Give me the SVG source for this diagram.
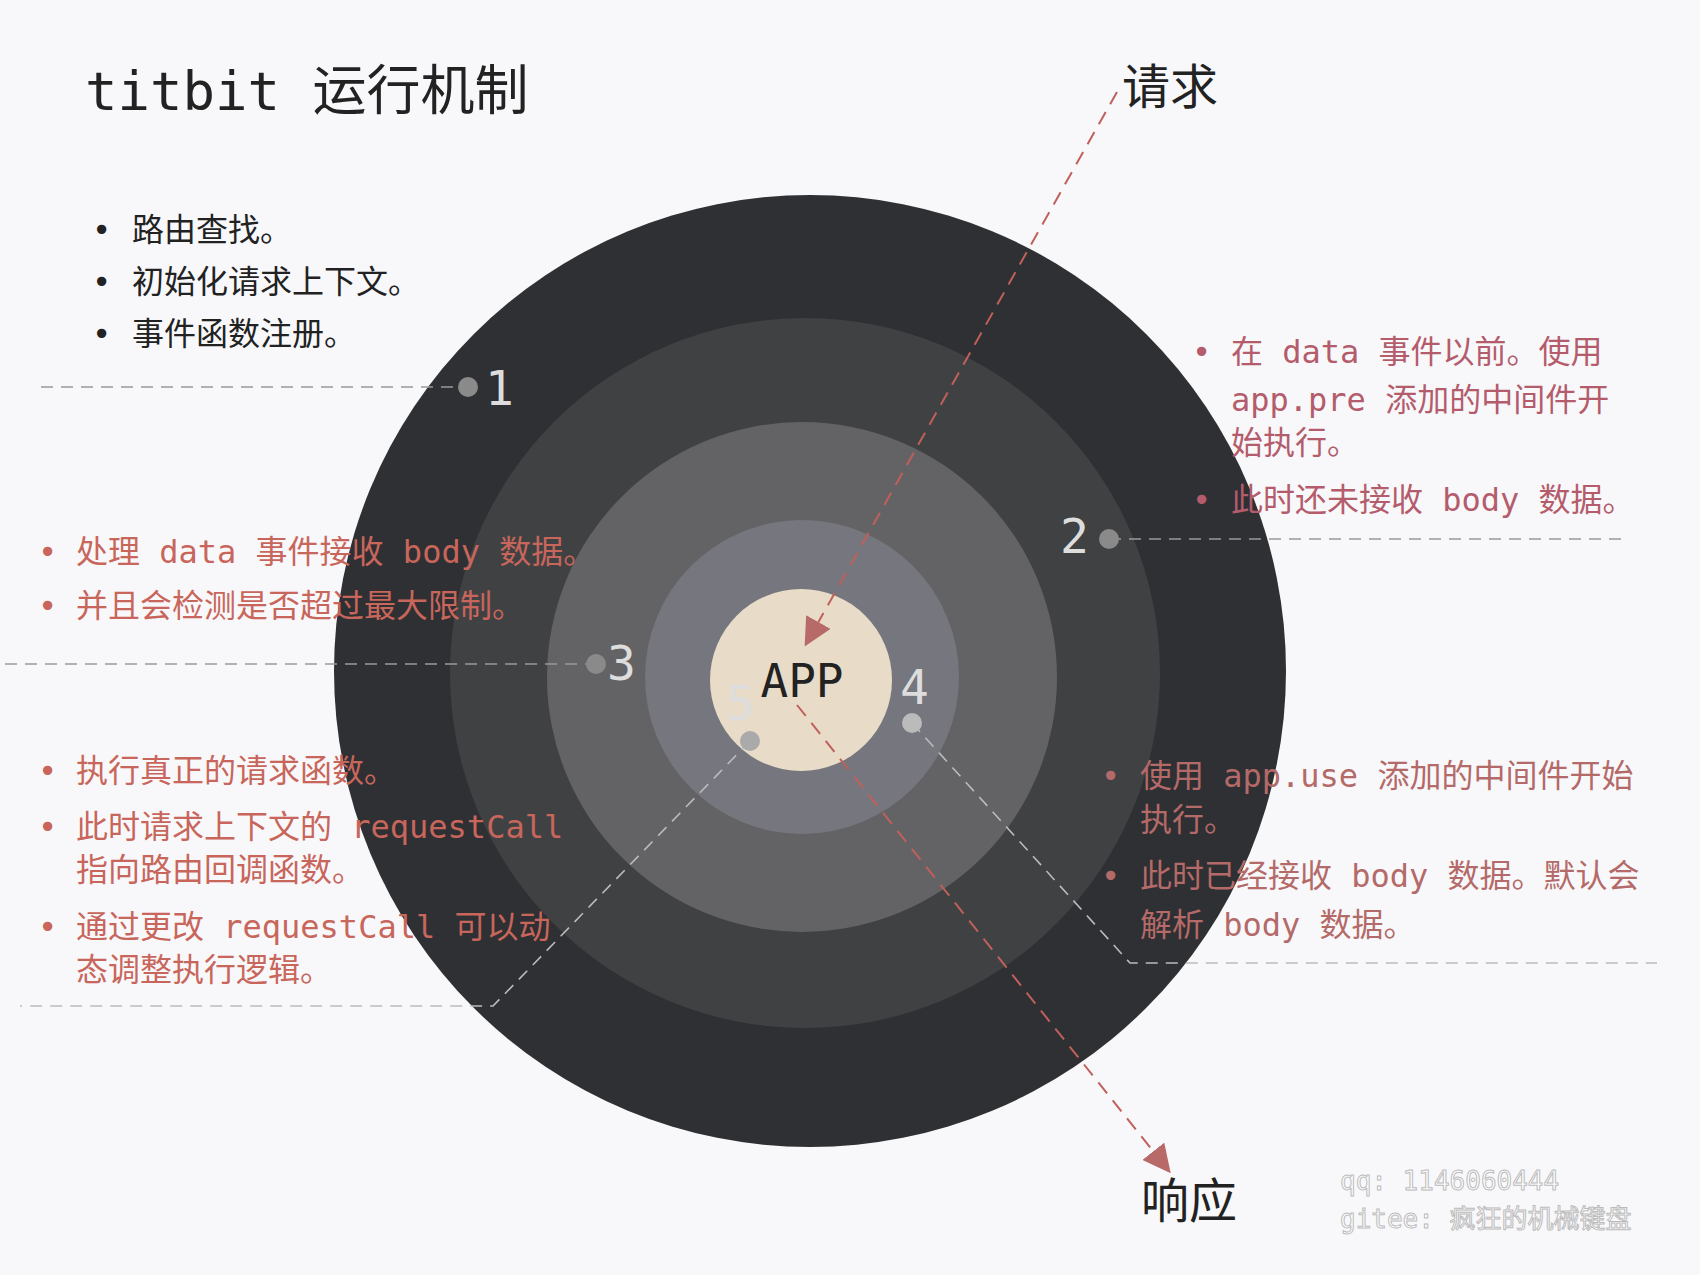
<svg xmlns="http://www.w3.org/2000/svg" width="1700" height="1275" viewBox="0 0 1700 1275">
<style>
text{font-family:"DejaVu Sans Mono","Noto Sans CJK SC",monospace;}
.b{font-size:32px;fill:#222}
.r{font-size:32px;fill:#c8665c}
.p{font-size:32px;fill:#b45c6c}
.q{font-size:32px;fill:#b46a68}
.n{font-size:48px;fill:#ddd}
.dash{stroke:#999;stroke-width:1.6;stroke-dasharray:12 8;fill:none}
.ldash{stroke:#bbb;stroke-width:1.6;stroke-dasharray:12 8;fill:none}
.arr{stroke:#c0605a;stroke-width:2;stroke-dasharray:14 9;fill:none}
.dot{fill:#8a8a8a}
</style>
<defs><marker id="ah" viewBox="0 0 10 10" refX="9" refY="5" markerWidth="10" markerHeight="10" markerUnits="userSpaceOnUse" orient="auto"><path d="M0,0L10,5L0,10z" fill="#c0605a"/></marker>
<marker id="ah2" viewBox="0 0 10 10" refX="9" refY="5" markerWidth="28" markerHeight="28" markerUnits="userSpaceOnUse" orient="auto"><path d="M0,0L10,5L0,10z" fill="#b86a68"/></marker></defs>
<rect width="1700" height="1275" fill="#f8f8fa"/>
<text x="85" y="110" font-size="54" fill="#222">titbit 运行机制</text>
<g id="rings">
<circle cx="810" cy="671" r="476" fill="#2f3033"/>
<circle cx="805" cy="673" r="355" fill="#404143"/>
<circle cx="802" cy="677" r="255" fill="#636365"/>
<circle cx="802" cy="677" r="157" fill="#76767e"/>
</g>
<g id="app"><circle cx="801" cy="680" r="91" fill="#e8dcc9"/><text x="802" y="697" font-size="46" fill="#222" text-anchor="middle">APP</text></g>
<g id="connectors">
<path class="dash" d="M41,387H468"/>
<path class="dash" d="M1109,539H1626"/>
<path class="dash" d="M5,664H596"/>
<path class="ldash" d="M750,741L493,1006H20"/>
<path class="ldash" d="M912,723L1130,963H1657"/>
<path class="arr" d="M1117,92L806,644" marker-end="url(#ah2)"/>
<path class="arr" d="M797,705L1169,1171" marker-end="url(#ah2)"/>
</g>
<g id="n1"><circle class="dot" cx="468" cy="387" r="10"/><text class="n" x="485" y="405">1</text></g>
<g id="n2"><circle class="dot" cx="1109" cy="539" r="10"/><text class="n" x="1060" y="553">2</text></g>
<g id="n3"><circle class="dot" cx="596" cy="664" r="10"/><text class="n" x="607" y="680" fill="#ccc">3</text></g>
<g id="n4"><circle cx="912" cy="723" r="10" fill="#bbb"/><text class="n" x="900" y="704" fill="#ccc">4</text></g>
<g id="n5"><circle cx="750" cy="741" r="10" fill="#aaa"/><text class="n" x="726" y="720" font-size="44" fill="#555">5</text></g>
<text x="1122" y="104" font-size="48" fill="#222">请求</text>
<text x="1141" y="1218" font-size="48" fill="#222">响应</text>
<g id="t1">
<text class="b" x="92" y="241">•</text><text class="b" x="132" y="241">路由查找。</text>
<text class="b" x="92" y="293">•</text><text class="b" x="132" y="293">初始化请求上下文。</text>
<text class="b" x="92" y="345">•</text><text class="b" x="132" y="345">事件函数注册。</text>
</g>
<g id="t2">
<text class="p" x="1192" y="363">•</text><text class="p" x="1231" y="363">在 data 事件以前。使用</text>
<text class="p" x="1231" y="411">app.pre 添加的中间件开</text>
<text class="p" x="1231" y="454">始执行。</text>
<text class="p" x="1192" y="511">•</text><text class="p" x="1231" y="511">此时还未接收 body 数据。</text>
</g>
<g id="t3">
<text class="r" x="38" y="563">•</text><text class="r" x="76" y="563">处理 data 事件接收 body 数据。</text>
<text class="r" x="38" y="617">•</text><text class="r" x="76" y="617">并且会检测是否超过最大限制。</text>
</g>
<g id="t5">
<text class="r" x="38" y="782">•</text><text class="r" x="76" y="782">执行真正的请求函数。</text>
<text class="r" x="38" y="838">•</text><text class="r" x="76" y="838">此时请求上下文的 requestCall</text>
<text class="r" x="76" y="881">指向路由回调函数。</text>
<text class="r" x="38" y="938">•</text><text class="r" x="76" y="938">通过更改 requestCall 可以动</text>
<text class="r" x="76" y="981">态调整执行逻辑。</text>
</g>
<g id="t4">
<text class="q" x="1101" y="787">•</text><text class="q" x="1140" y="787">使用 app.use 添加的中间件开始</text>
<text class="q" x="1140" y="831">执行。</text>
<text class="q" x="1101" y="887">•</text><text class="q" x="1140" y="887">此时已经接收 body 数据。默认会</text>
<text class="q" x="1140" y="936">解析 body 数据。</text>
</g>
<g id="wm" font-size="26" fill="#fff" stroke="#bbb" stroke-width="1">
<text x="1340" y="1190">qq: 1146060444</text>
<text x="1340" y="1228">gitee: 疯狂的机械键盘</text>
</g>
</svg>
